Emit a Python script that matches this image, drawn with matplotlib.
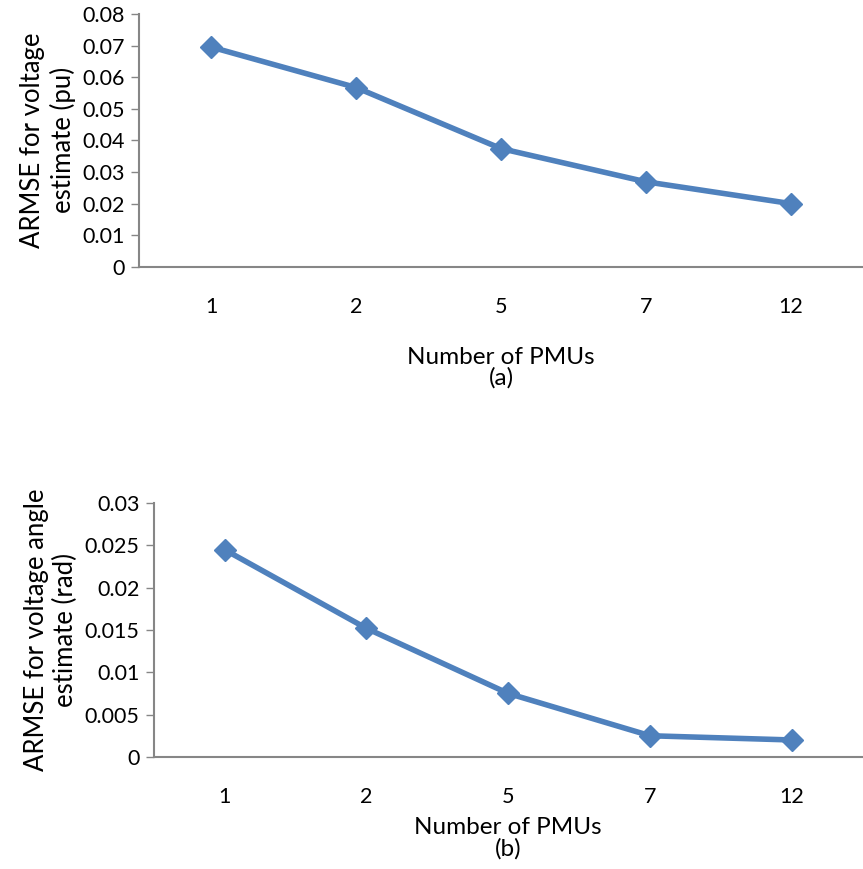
import matplotlib
matplotlib.use("Agg")
import matplotlib.pyplot as plt

categories = ["1", "2", "5", "7", "12"]
armse_voltage = [0.0695, 0.0567, 0.0374, 0.0269, 0.0200]
armse_angle = [0.0245, 0.0152, 0.0075, 0.0025, 0.0020]
yticks_a = [0, 0.01, 0.02, 0.03, 0.04, 0.05, 0.06, 0.07, 0.08]
ytick_labels_a = ["0", "0.01", "0.02", "0.03", "0.04", "0.05", "0.06", "0.07", "0.08"]
yticks_b = [0, 0.005, 0.01, 0.015, 0.02, 0.025, 0.03]
ytick_labels_b = ["0", "0.005", "0.01", "0.015", "0.02", "0.025", "0.03"]

plt.rcParams['font.family'] = ['Lato', 'DejaVu Sans']
LINE = "#4F81BD"
SPINE = "#868686"

fig = plt.figure(figsize=(8.63, 8.69), dpi=100)
ax1 = fig.add_axes([0.161, 0.693, 0.839, 0.291])
ax2 = fig.add_axes([0.178, 0.129, 0.822, 0.292])

def style(ax, yt, ytl, ylabel, xlabel, labelpad):
    x = list(range(len(categories)))
    ax.set_xlim(-0.5, len(categories) - 0.5)
    ax.set_xticks(x)
    ax.set_xticklabels(categories, fontsize=15.5)
    ax.set_yticks(yt)
    ax.set_yticklabels(ytl, fontsize=15.5)
    ax.set_ylim(yt[0], yt[-1])
    for s in ["top", "right"]:
        ax.spines[s].set_visible(False)
    for s in ["left", "bottom"]:
        ax.spines[s].set_color(SPINE)
        ax.spines[s].set_linewidth(1.5)
    ax.tick_params(axis="x", length=0, pad=22)
    ax.tick_params(axis="y", length=6, width=1, color=SPINE, direction="out", pad=4)
    ax.set_ylabel(ylabel, fontsize=18.5, linespacing=1.2, labelpad=5)
    ax.set_xlabel(xlabel, fontsize=17.5, linespacing=1.0, labelpad=labelpad)

style(ax1, yticks_a, ytick_labels_a, "ARMSE for voltage\nestimate (pu)", "Number of PMUs\n(a)", 21)
style(ax2, yticks_b, ytick_labels_b, "ARMSE for voltage angle\nestimate (rad)", "Number of PMUs\n(b)", 7)

ax1.plot(range(len(categories)), armse_voltage, color=LINE, lw=4, marker="D",
         markersize=11, clip_on=False)
ax2.plot(range(len(categories)), armse_angle, color=LINE, lw=4, marker="D",
         markersize=11, clip_on=False)

fig.savefig("out.png", dpi=100)
